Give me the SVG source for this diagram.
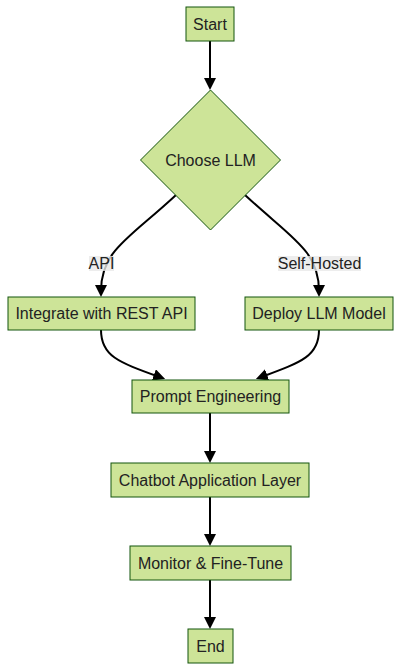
<svg xmlns="http://www.w3.org/2000/svg" width="402" height="671" viewBox="0 0 402 671">
<style>
.node{fill:#cde498;stroke:#13540c;stroke-width:1}
.lbl{font-family:"Liberation Sans",Arial,sans-serif;font-size:16px;fill:#222;text-anchor:middle}
.edge{fill:none;stroke:#000;stroke-width:2}
.elbg{fill:#e8e8e8;opacity:0.8}
</style>
<defs>
<marker id="arr" markerUnits="userSpaceOnUse" viewBox="0 0 12 12" refX="6" refY="6" markerWidth="12" markerHeight="12" orient="auto">
<path d="M0,0 L12,6 L0,12 z" fill="#000"/>
</marker>
</defs>
<rect width="402" height="671" fill="#fff"/>
<g id="connectors">
<path class="edge" d="M210,41 L210,84" marker-end="url(#arr)"/>
<path class="edge" d="M176,195 C130,238 101,250 101,291" marker-end="url(#arr)"/>
<path class="edge" d="M245,195 C291,238 319,250 319,291" marker-end="url(#arr)"/>
<path class="edge" d="M101,330 C101,356 118,362 159.5,377" marker-end="url(#arr)"/>
<path class="edge" d="M319,330 C319,356 302,362 261.5,377" marker-end="url(#arr)"/>
<path class="edge" d="M210,413 L210,457" marker-end="url(#arr)"/>
<path class="edge" d="M210,497 L210,540" marker-end="url(#arr)"/>
<path class="edge" d="M210,580 L210,623" marker-end="url(#arr)"/>
<g id="label-api"><rect class="elbg" x="89" y="256" width="25" height="15"/><text class="lbl" x="101.5" y="269">API</text></g>
<g id="label-self"><rect class="elbg" x="278" y="256" width="83" height="15"/><text class="lbl" x="319.5" y="269">Self-Hosted</text></g>
</g>
<g id="start"><rect class="node" x="186" y="7" width="48" height="34"/><text class="lbl" x="210" y="29.5">Start</text></g>
<g id="choose"><polygon class="node" points="210.5,90 280.5,160 210.5,230 140.5,160"/><text class="lbl" x="210.5" y="165.5">Choose LLM</text></g>
<g id="integrate"><rect class="node" x="8" y="297" width="187" height="33"/><text class="lbl" x="101.5" y="319">Integrate with REST API</text></g>
<g id="deploy"><rect class="node" x="245" y="297" width="148" height="33"/><text class="lbl" x="319" y="319">Deploy LLM Model</text></g>
<g id="prompt"><rect class="node" x="132" y="380" width="157" height="33"/><text class="lbl" x="210.5" y="402">Prompt Engineering</text></g>
<g id="chatbot"><rect class="node" x="111" y="463" width="198" height="34"/><text class="lbl" x="210" y="485.5">Chatbot Application Layer</text></g>
<g id="monitor"><rect class="node" x="130" y="546" width="161" height="34"/><text class="lbl" x="210.5" y="568.5">Monitor &amp; Fine-Tune</text></g>
<g id="end"><rect class="node" x="188" y="629" width="45" height="34"/><text class="lbl" x="210.5" y="651.5">End</text></g>
</svg>
